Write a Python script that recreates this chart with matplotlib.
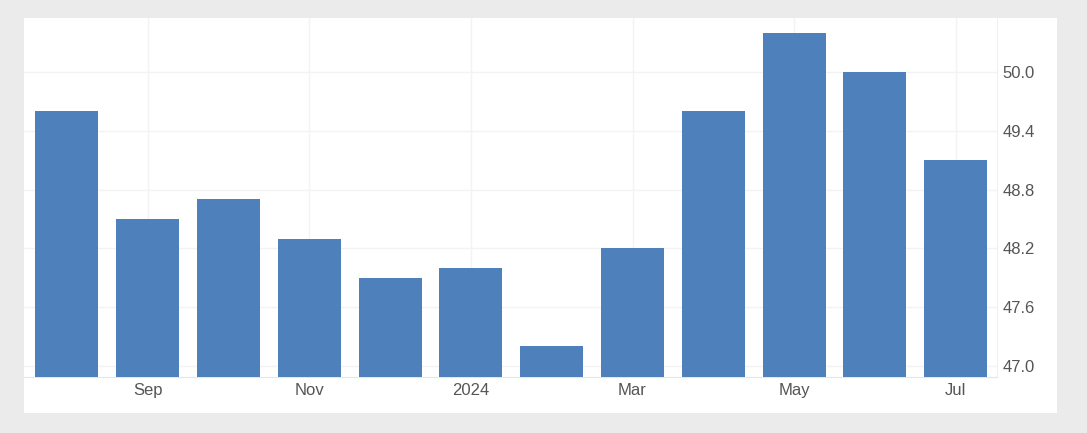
import numpy as np
import matplotlib
matplotlib.use("Agg")
from matplotlib import pyplot as plt
from matplotlib.patches import Rectangle

# monthly values, Aug 2023 .. Jul 2024
months = ["Aug", "Sep", "Oct", "Nov", "Dec", "Jan", "Feb", "Mar", "Apr", "May", "Jun", "Jul"]
values = [49.6, 48.5, 48.7, 48.3, 47.9, 48.0, 47.2, 48.2, 49.6, 50.4, 50.0, 49.1]
tick_idx = [1, 3, 5, 7, 9, 11]
tick_labels = ["Sep", "Nov", "2024", "Mar", "May", "Jul"]
y_ticks = [47.0, 47.6, 48.2, 48.8, 49.4, 50.0]

plt.rcParams['font.family'] = ['Liberation Sans', 'DejaVu Sans']

W, H = 1087, 433
fig = plt.figure(figsize=(W / 100, H / 100), dpi=100)
fig.patch.set_facecolor("#ebebeb")

# white panel behind the chart
fig.patches.append(Rectangle((24 / W, 20 / H), 1033 / W, 395 / H,
                             transform=fig.transFigure, facecolor="white",
                             edgecolor="none", zorder=-5))

ax = fig.add_axes([24 / W, (H - 377) / H, 973 / W, 359 / H])
ax.set_zorder(1)
ax.set_facecolor("none")

x = np.arange(len(values))
ybot = 46.888
ax.bar(x, np.array(values) - ybot, bottom=ybot, width=0.78, color="#4e80bc", zorder=3)

ax.set_xlim(-0.53, 11.51)
ax.set_ylim(ybot, 50.551)

ax.set_yticks(y_ticks)
ax.set_yticklabels([f"{v:.1f}" for v in y_ticks])
ax.yaxis.tick_right()
ax.set_xticks(tick_idx)
ax.set_xticklabels(tick_labels)

ax.tick_params(axis="both", length=0, labelsize=12, colors="#555555")
ax.tick_params(axis="y", pad=4)
ax.tick_params(axis="x", pad=4)

ax.grid(True, color="#f3f3f3", linewidth=1, zorder=0)
for side in ["top", "left"]:
    ax.spines[side].set_visible(False)
ax.spines["bottom"].set_color("#e6e6e6")
ax.spines["right"].set_color("#f0f0f0")

fig.savefig("out.png", dpi=100, facecolor=fig.get_facecolor())
